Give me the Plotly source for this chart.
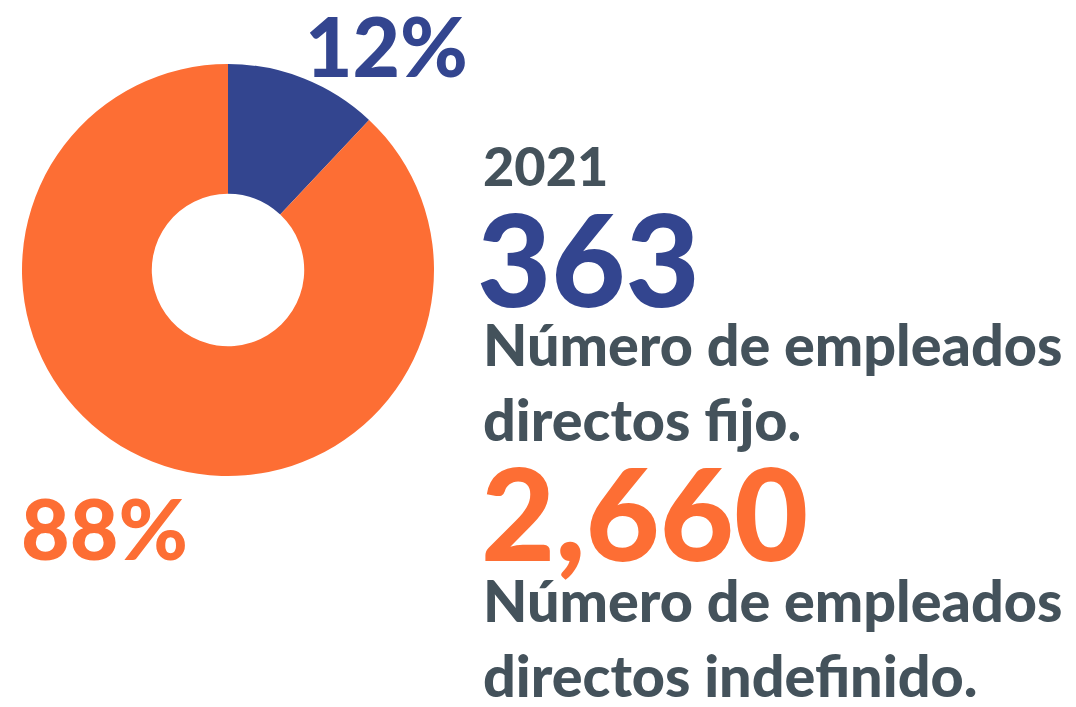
import plotly.graph_objects as go

categories = ["Empleados directos fijos", "Empleados directos indefinidos"]
values = [363, 2660]
year = "2021"
descriptions = ["Número de empleados<br>directos fijo.", "Número de empleados<br>directos indefinido."]

NAVY = "#33458f"
ORANGE = "#fd6e34"
GRAY = "#44525b"
FONT = "Lato"

W, H = 1076, 707

def px(x):
    return x / W

def py(y):
    return 1 - y / H

total = sum(values)
pcts = [f"{round(v / total * 100)}%" for v in values]

fig = go.Figure(go.Pie(
    labels=categories, values=values, hole=0.37, sort=False,
    direction="clockwise", rotation=0,
    marker=dict(colors=[NAVY, ORANGE], line=dict(width=0)),
    textinfo="none", hoverinfo="label+value+percent", showlegend=False,
    domain=dict(x=[px(14), px(426)], y=[py(468), py(56)]),
))

def ann(text, x, y, size, color):
    fig.add_annotation(text=text, x=px(x), y=py(y), xref="paper", yref="paper",
                       xanchor="left", yanchor="middle", showarrow=False, align="left",
                       font=dict(family=FONT, size=size, color=color, weight=900))

ann(pcts[0], 295, 37, 82, NAVY)
ann(pcts[1], 11, 519, 84, ORANGE)
ann(year, 473, 158, 54, GRAY)
ann(f"{values[0]:,}", 467, 249, 128, NAVY)
ann(descriptions[0], 473, 373, 57.5, GRAY)
ann(f"{values[1]:,}", 471, 503, 128, ORANGE)
ann(descriptions[1], 473, 629, 57.5, GRAY)

fig.update_layout(width=W, height=H, margin=dict(l=0, r=0, t=0, b=0),
                  paper_bgcolor="white", plot_bgcolor="white")
fig.write_html("out.html")
